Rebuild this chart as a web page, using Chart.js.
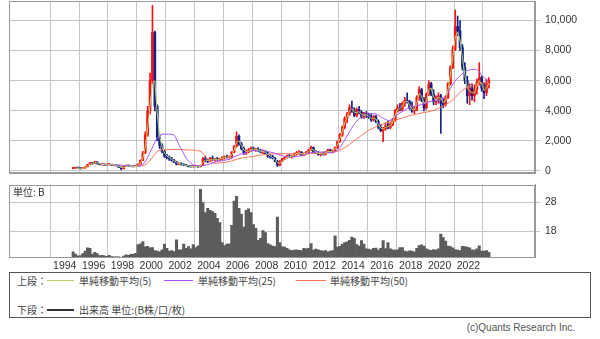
<!DOCTYPE html>
<html>
<head>
<meta charset="utf-8">
<script src="https://cdn.jsdelivr.net/npm/chart.js@4/dist/chart.umd.min.js"></script>
<style>
    body { margin: 0; background: #fff; width: 600px; height: 339px; position: relative; overflow: hidden; }
    canvas { position: absolute; left: 0; }
    #priceChart { top: 0; }
    #volumeChart { top: 180px; }
    .legend { position: absolute; left: 9px; top: 272px; width: 582px; height: 46px; border: 1px solid #555; box-sizing: border-box;
              font-family: "Noto Sans CJK JP", sans-serif; font-size: 10px; color: #444; }
    .legend span { position: absolute; line-height: 12px; white-space: nowrap; }
    .legend i { position: absolute; display: block; height: 1px; }
    .copy { position: absolute; right: 25px; top: 322px; font-family: "Liberation Sans", sans-serif; font-size: 10px; color: #555; }
</style>
</head>
<body>
<canvas id="priceChart" width="600" height="176"></canvas>
<canvas id="volumeChart" width="600" height="92"></canvas>
<div class="legend">
    <span style="left:7px;top:2px">上段：</span>
    <i style="left:37px;top:7px;width:27px;background:#b5d66b"></i>
    <span style="left:69px;top:2px">単純移動平均(5)</span>
    <i style="left:154px;top:7px;width:29px;background:#a855f7"></i>
    <span style="left:188px;top:2px">単純移動平均(25)</span>
    <i style="left:286px;top:7px;width:30px;background:#ff7755"></i>
    <span style="left:320px;top:2px">単純移動平均(50)</span>
    <span style="left:7px;top:31px">下段：</span>
    <i style="left:37px;top:36px;width:27px;height:2px;background:#333"></i>
    <span style="left:69px;top:31px">出来高 単位:(B株/口/枚)</span>
</div>
<div class="copy">(c)Quants Research Inc.</div>
<script>
// two-month candles, first one = Jul-Aug 1994
const firstPeriod = 1994.5;
const periodsPerYear = 6;

// 1994 has 3 periods, 1995-2022 have 6, 2023 has 3
const opens = [
    170, 180, 220,
    200, 160, 200, 280, 420, 540,
    500, 600, 480, 420, 440, 400,
    420, 440, 380, 400, 350, 250,
    150, 300, 380, 330, 300, 290,
    330, 450, 700, 1200, 2400, 4000,
    6000, 9200, 4300, 2200, 1700, 1300,
    1000, 900, 800, 700, 600, 450,
    500, 420, 400, 350, 300, 280,
    320, 300, 280, 380, 800, 700,
    650, 850, 750, 800, 750, 820,
    900, 950, 900, 950, 1250, 1650,
    2300, 1800, 1500, 1200, 1300, 1400,
    1500, 1400, 1450, 1350, 1250, 1300,
    1150, 1000, 950, 850, 650, 400,
    650, 800, 900, 1000, 950, 1000,
    1150, 1200, 1250, 1050, 1150, 1250,
    1400, 1550, 1250, 1200, 1100, 1150,
    1100, 1250, 1400, 1250, 1350, 1550,
    1950, 2400, 2900, 3500, 3800, 4200,
    4000, 3700, 4100, 3900, 3600, 3800,
    3700, 3600, 3400, 3600, 3300, 2900,
    2700, 2800, 3000, 2900, 3100, 3400,
    4000, 4200, 4100, 4500, 4700, 4600,
    4200, 4000, 4100, 4900, 5400, 4700,
    4200, 5100, 5800, 5100, 4600, 4800,
    5000, 4500, 4400, 4900, 5800, 6900,
    8100, 9600, 9300, 8200, 6900, 6000,
    5000, 5500, 5000, 5400, 5900, 6200,
    5500, 5200, 5800
];
const highs = [
    230, 260, 240,
    210, 230, 300, 450, 580, 560,
    650, 620, 500, 480, 460, 450,
    480, 450, 430, 410, 360, 270,
    320, 400, 400, 350, 320, 350,
    480, 750, 1300, 2600, 4300, 6500,
    11000, 9300, 4400, 2400, 1800, 1400,
    1100, 1000, 900, 780, 650, 550,
    550, 480, 450, 380, 330, 350,
    350, 330, 400, 900, 1000, 800,
    900, 1000, 850, 900, 850, 950,
    1000, 1050, 1000, 1300, 1700, 2600,
    2400, 1900, 1600, 1400, 1500, 1600,
    1600, 1500, 1550, 1450, 1400, 1350,
    1250, 1100, 1050, 900, 700, 700,
    850, 950, 1050, 1100, 1050, 1200,
    1300, 1350, 1300, 1200, 1300, 1450,
    1650, 1600, 1350, 1300, 1200, 1250,
    1300, 1450, 1450, 1400, 1600, 2000,
    2500, 3000, 3600, 3900, 4400, 4650,
    4200, 4200, 4300, 4000, 3900, 3950,
    3850, 3800, 3700, 3700, 3400, 3100,
    2900, 3200, 3300, 3200, 3500, 4100,
    4400, 4500, 4600, 4900, 5200, 4700,
    4600, 4300, 5000, 5600, 5500, 4900,
    5200, 6000, 5900, 5400, 5000, 5200,
    5100, 4800, 5000, 5900, 7000, 8300,
    10700, 10300, 10000, 8400, 7200, 6300,
    5800, 5800, 5700, 6100, 7200, 6300,
    5900, 6100, 6200
];
const lows = [
    150, 170, 180,
    130, 150, 190, 270, 400, 450,
    480, 450, 400, 400, 370, 380,
    400, 360, 350, 330, 230, 80,
    140, 280, 310, 280, 260, 280,
    320, 440, 680, 1150, 2300, 3800,
    5800, 4000, 2000, 1500, 1200, 900,
    800, 700, 650, 550, 400, 400,
    380, 350, 330, 260, 250, 260,
    270, 240, 270, 370, 600, 550,
    600, 700, 650, 700, 680, 750,
    800, 850, 850, 900, 1200, 1600,
    1700, 1400, 1100, 1100, 1200, 1300,
    1350, 1300, 1300, 1200, 1150, 1100,
    900, 850, 800, 600, 300, 350,
    600, 750, 850, 900, 850, 950,
    1050, 1100, 1000, 1000, 1100, 1200,
    1350, 1200, 1150, 1050, 1000, 1050,
    1050, 1200, 1200, 1200, 1300, 1500,
    1900, 2300, 2800, 3200, 3700, 3900,
    3600, 3600, 3800, 3500, 3500, 3550,
    3500, 3300, 3300, 3200, 2800, 2600,
    1950, 2700, 2800, 2800, 3000, 3300,
    3900, 4000, 4000, 4300, 4500, 4100,
    3900, 3800, 4000, 4700, 4600, 4000,
    4100, 5000, 5000, 4400, 4400, 4500,
    2500, 4200, 4300, 4800, 5700, 6800,
    8000, 9000, 8000, 6700, 5800, 4500,
    4400, 4700, 4600, 5100, 5700, 5300,
    4800, 5000, 5500
];
const closes = [
    180, 220, 200,
    160, 200, 280, 420, 540, 500,
    600, 480, 420, 440, 400, 420,
    440, 380, 400, 350, 250, 150,
    300, 380, 330, 300, 290, 330,
    450, 700, 1200, 2400, 4000, 6000,
    9200, 4300, 2200, 1700, 1300, 1000,
    900, 800, 700, 600, 450, 500,
    420, 400, 350, 300, 280, 320,
    300, 280, 380, 800, 700, 650,
    850, 750, 800, 750, 820, 900,
    950, 900, 950, 1250, 1650, 2300,
    1800, 1500, 1200, 1300, 1400, 1500,
    1400, 1450, 1350, 1250, 1300, 1150,
    1000, 950, 850, 650, 400, 650,
    800, 900, 1000, 950, 1000, 1150,
    1200, 1250, 1050, 1150, 1250, 1400,
    1550, 1250, 1200, 1100, 1150, 1100,
    1250, 1400, 1250, 1350, 1550, 1950,
    2400, 2900, 3500, 3800, 4200, 4000,
    3700, 4100, 3900, 3600, 3800, 3700,
    3600, 3400, 3600, 3300, 2900, 2700,
    2800, 3000, 2900, 3100, 3400, 4000,
    4200, 4100, 4500, 4700, 4600, 4200,
    4000, 4100, 4900, 5400, 4700, 4200,
    5100, 5800, 5100, 4600, 4800, 5000,
    4500, 4400, 4900, 5800, 6900, 8100,
    9600, 9300, 8200, 6900, 6000, 5000,
    5500, 5000, 5400, 5900, 6200, 5500,
    5200, 5800, 6000
];
// volume, unit B
const volumes = [
    10.8, 10.0, 9.4,
    9.5, 10.2, 11.0, 12.2, 12.0, 10.0,
    10.6, 10.2, 9.5, 9.6, 9.4, 9.2,
    9.6, 9.1, 9.0, 9.0, 9.0, 8.9,
    9.3, 9.7, 9.6, 9.9, 10.0, 10.3,
    13.3, 13.6, 14.4, 12.5, 12.7, 12.2,
    12.3, 11.2, 11.0, 10.8, 11.5, 13.5,
    12.0, 11.0, 11.2, 10.9, 15.0, 11.5,
    11.5, 13.5, 12.0, 12.6, 11.8, 13.3,
    12.3, 12.9, 32.6, 28.0, 24.5, 26.0,
    25.3, 24.8, 24.2, 22.5, 21.0, 14.0,
    13.0, 13.5, 13.6, 20.0, 28.5, 30.2,
    26.0, 24.0, 19.4, 25.3, 25.8, 24.5,
    20.3, 19.0, 14.8, 15.5, 18.2, 17.5,
    13.7, 13.2, 12.8, 12.6, 22.9, 14.0,
    12.6, 12.4, 12.0, 11.5, 11.2, 11.4,
    11.5, 11.3, 11.2, 12.0, 11.8, 12.0,
    13.7, 11.4, 11.7, 11.5, 11.2, 11.0,
    11.2, 10.8, 11.0, 11.2, 16.4, 12.4,
    12.7, 13.5, 14.0, 14.3, 14.8, 15.9,
    15.5, 13.3, 12.8, 14.7, 13.5, 11.8,
    11.7, 11.5, 12.0, 12.1, 11.4, 12.0,
    14.7, 11.9, 14.0, 11.8, 11.5, 11.4,
    11.5, 12.3, 12.3, 11.0, 10.9, 11.1,
    11.0, 10.8, 12.0, 13.0, 13.2, 12.8,
    11.8, 11.5, 11.3, 11.6, 11.4, 11.8,
    17.0, 15.8, 14.5, 12.8, 12.6, 12.2,
    11.6, 11.4, 11.2, 12.7, 12.6, 12.4,
    12.2, 11.5, 11.4, 11.8, 12.9, 11.0,
    11.0, 11.2, 10.6
];
// 5 month moving average, read at the candle periods
const ma5 = [
    null, 190, 200,
    180, 180, 230, 330, 450, 500,
    540, 540, 480, 440, 420, 410,
    420, 410, 400, 380, 320, 230,
    220, 290, 340, 320, 300, 300,
    350, 520, 850, 1600, 2800, 4400,
    5800, 6000, 3800, 2300, 1600, 1200,
    1000, 880, 780, 680, 560, 480,
    460, 420, 380, 340, 300, 300,
    300, 290, 320, 580, 720, 700,
    740, 780, 780, 770, 790, 850,
    910, 930, 920, 1050, 1400, 1900,
    2000, 1700, 1400, 1300, 1320, 1420,
    1450, 1430, 1400, 1310, 1280, 1230,
    1100, 1000, 900, 760, 560, 520,
    650, 780, 900, 960, 980, 1060,
    1150, 1210, 1150, 1120, 1180, 1300,
    1450, 1400, 1260, 1170, 1140, 1120,
    1170, 1300, 1300, 1300, 1430, 1720,
    2150, 2650, 3200, 3600, 4000, 4150,
    3900, 3880, 3950, 3750, 3700, 3720,
    3650, 3500, 3500, 3450, 3100, 2850,
    2800, 2900, 2950, 3000, 3250, 3700,
    4100, 4150, 4300, 4600, 4650, 4400,
    4100, 4050, 4500, 5150, 5000, 4500,
    4600, 5400, 5500, 4900, 4700, 4900,
    4850, 4550, 4650, 5400, 6400, 7600,
    8900, 9200, 8700, 7500, 6400, 5500,
    5300, 5200, 5200, 5650, 6000, 5800,
    5350, 5500, 5850
];
// 25 and 50 month moving averages, read every half year
const ma25Years = [1996.5, 1997, 1997.5, 1998, 1998.5, 1999, 1999.5, 2000, 2000.5, 2001, 2001.5, 2002, 2002.5, 2003, 2003.5,
    2004, 2004.5, 2005, 2005.5, 2006, 2006.5, 2007, 2007.5, 2008, 2008.5, 2009, 2009.5, 2010, 2010.5, 2011, 2011.5,
    2012, 2012.5, 2013, 2013.5, 2014, 2014.5, 2015, 2015.5, 2016, 2016.5, 2017, 2017.5, 2018, 2018.5, 2019, 2019.5,
    2020, 2020.5, 2021, 2021.5, 2022, 2022.5, 2023, 2023.4];
const ma25 = [400, 420, 420, 380, 330, 320, 500, 1400, 2300, 2450, 2420, 1600, 750, 380, 350,
    450, 600, 700, 800, 1050, 1200, 1350, 1350, 1300, 1200, 1050, 950, 950, 1050, 1200, 1270,
    1250, 1220, 1450, 2200, 3000, 3550, 3800, 3800, 3550, 3350, 3700, 4000, 4250, 4350, 4500, 4650,
    4700, 5100, 5900, 6400, 6700, 6750, 6300, 5900];
const ma50Years = [1998.5, 1999, 1999.5, 2000, 2000.5, 2001, 2001.5, 2002, 2002.5, 2003, 2003.5, 2004, 2004.5,
    2005, 2005.5, 2006, 2006.5, 2007, 2007.5, 2008, 2008.5, 2009, 2009.5, 2010, 2010.5, 2011, 2011.5,
    2012, 2012.5, 2013, 2013.5, 2014, 2014.5, 2015, 2015.5, 2016, 2016.5, 2017, 2017.5, 2018, 2018.5,
    2019, 2019.5, 2020, 2020.5, 2021, 2021.5, 2022, 2022.5, 2023, 2023.4];
const ma50 = [350, 330, 380, 800, 1350, 1420, 1430, 1420, 1400, 1380, 1250, 700, 520,
    560, 650, 800, 900, 950, 1050, 1100, 1150, 1150, 1150, 1150, 1150, 1150, 1180,
    1200, 1230, 1350, 1600, 1950, 2300, 2650, 2900, 3100, 3250, 3400, 3550, 3700, 3800,
    3900, 4000, 4200, 4450, 4800, 5300, 5600, 5750, 5850, 5900];

const yearTicks = [1994, 1996, 1998, 2000, 2002, 2004, 2006, 2008, 2010, 2012, 2014, 2016, 2018, 2020, 2022];
const priceTicks = [0, 2000, 4000, 6000, 8000, 10000];
const volumeTicks = [18, 28];

const gridColor = '#c6c6c6';
const upColor = '#ff1010';
const downColor = '#14208a';

Chart.defaults.font.family = '"Liberation Sans", Arial, sans-serif';
Chart.defaults.font.size = 10.5;
Chart.defaults.color = '#333';
Chart.defaults.animation = false;

const periodX = closes.map((_, i) => firstPeriod + (i + 0.5) / periodsPerYear);
const candleColors = closes.map((c, i) => c >= opens[i] ? upColor : downColor);

// keep the plot area exactly where the padding puts it
function noScalePadding(s) {
    s.paddingTop = 0;
    s.paddingBottom = 0;
    s.paddingLeft = 0;
    s.paddingRight = 0;
}

const framePlugin = {
    id: 'frame',
    afterDatasetsDraw(chart) {
        const a = chart.chartArea;
        const ctx = chart.ctx;
        ctx.save();
        ctx.strokeStyle = '#9a9a9a';
        ctx.lineWidth = 1;
        ctx.strokeRect(Math.round(a.left) + 0.5, Math.round(a.top) + 0.5,
            Math.round(a.right - a.left) - 1, Math.round(a.bottom - a.top) - 1);
        ctx.restore();
    }
};

const unitPlugin = {
    id: 'unit',
    afterDraw(chart) {
        const a = chart.chartArea;
        const ctx = chart.ctx;
        ctx.save();
        ctx.font = '10px "Noto Sans CJK JP"';
        ctx.fillStyle = '#333';
        ctx.textBaseline = 'middle';
        ctx.fillText('単位: B', a.left + 4, a.top + 8);
        ctx.restore();
    }
};

function yearAxis(showLabels) {
    return {
        type: 'linear',
        min: 1991.35,
        max: 2025.4,
        afterBuildTicks: s => { s.ticks = yearTicks.map(v => ({ value: v })); },
        afterFit: s => { s.height = showLabels ? 14.5 : 0; noScalePadding(s); },
        grid: { color: gridColor, drawTicks: false },
        border: { color: '#9a9a9a' },
        ticks: { display: showLabels, autoSkip: false, maxRotation: 0, padding: 2, callback: v => String(v) }
    };
}

new Chart(document.getElementById('priceChart'), {
    type: 'bar',
    data: {
        datasets: [
            {
                type: 'line',
                label: '単純移動平均(5)',
                data: periodX.map((x, i) => ({ x, y: ma5[i] })),
                borderColor: '#b5d66b',
                borderWidth: 1,
                pointRadius: 0,
                order: 1
            },
            {
                type: 'line',
                label: '単純移動平均(25)',
                data: ma25Years.map((x, i) => ({ x, y: ma25[i] })),
                borderColor: '#a855f7',
                borderWidth: 1,
                pointRadius: 0,
                cubicInterpolationMode: 'monotone',
                order: 2
            },
            {
                type: 'line',
                label: '単純移動平均(50)',
                data: ma50Years.map((x, i) => ({ x, y: ma50[i] })),
                borderColor: '#ff7755',
                borderWidth: 1,
                pointRadius: 0,
                cubicInterpolationMode: 'monotone',
                order: 3
            },
            {
                label: 'body',
                data: periodX.map((x, i) => ({ x, y: [opens[i], closes[i]] })),
                backgroundColor: candleColors,
                barThickness: 2,
                minBarLength: 1,
                grouped: false,
                order: 5
            },
            {
                label: 'wick',
                data: periodX.map((x, i) => ({ x, y: [lows[i], highs[i]] })),
                backgroundColor: candleColors,
                barThickness: 1,
                grouped: false,
                order: 6
            }
        ]
    },
    options: {
        responsive: false,
        layout: { padding: { top: 1, left: 9, right: 0, bottom: 3 } },
        plugins: { legend: { display: false }, tooltip: { enabled: false } },
        scales: {
            x: yearAxis(false),
            y: {
                position: 'right',
                min: -133,
                max: 11296,
                afterBuildTicks: s => { s.ticks = priceTicks.map(v => ({ value: v })); },
                afterFit: s => { s.width = 65; noScalePadding(s); },
                grid: { color: gridColor, tickLength: 5 },
                border: { color: '#9a9a9a' },
                ticks: { padding: 5, callback: v => v.toLocaleString('en-US') }
            }
        }
    },
    plugins: [framePlugin]
});

new Chart(document.getElementById('volumeChart'), {
    type: 'bar',
    data: {
        datasets: [{
            label: '出来高',
            data: periodX.map((x, i) => ({ x, y: volumes[i] })),
            backgroundColor: '#5c5c5c',
            barPercentage: 1,
            categoryPercentage: 1
        }]
    },
    options: {
        responsive: false,
        layout: { padding: { top: 4.5, left: 9, right: 0, bottom: 0 } },
        plugins: { legend: { display: false }, tooltip: { enabled: false } },
        scales: {
            x: yearAxis(true),
            y: {
                position: 'right',
                min: 8.8,
                max: 34.3,
                afterBuildTicks: s => { s.ticks = volumeTicks.map(v => ({ value: v })); },
                afterFit: s => { s.width = 65; noScalePadding(s); },
                grid: { color: gridColor, tickLength: 5 },
                border: { color: '#9a9a9a' },
                ticks: { padding: 5 }
            }
        }
    },
    plugins: [framePlugin, unitPlugin]
});
</script>
</body>
</html>
